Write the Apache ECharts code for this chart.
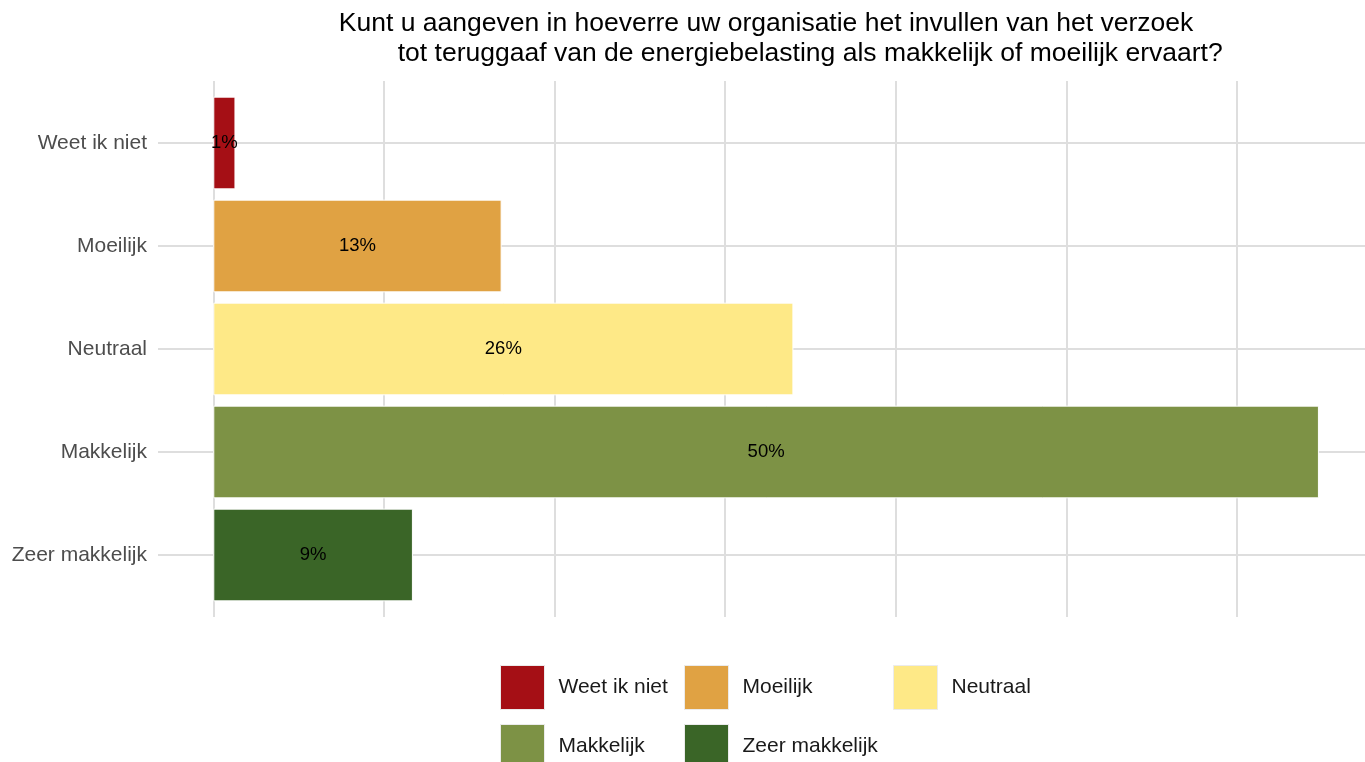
<!DOCTYPE html>
<html>
<head>
<meta charset="utf-8">
<script src="https://cdn.jsdelivr.net/npm/echarts@6/dist/echarts.min.js"></script>
<style>
  html, body { margin: 0; padding: 0; background: #fff; }
  #main { width: 1365px; height: 762px; }
</style>
</head>
<body>
<div id="main"></div>
<script>
// antwoordcategorieen (van boven naar beneden)
const categories = ['Weet ik niet', 'Moeilijk', 'Neutraal', 'Makkelijk', 'Zeer makkelijk'];
const counts = [1.3, 16.9, 34.0, 64.8, 11.7];
// labels in de balken
const percentLabels = ['1%', '13%', '26%', '50%', '9%'];
const colors = ['#A50F15', '#E0A243', '#FEE987', '#7D9245', '#3A6527'];

const titleText = 'Kunt u aangeven in hoeverre uw organisatie het invullen van het verzoek\n' +
  '            tot teruggaaf van de energiebelasting als makkelijk of moeilijk ervaart?';

let myChart = echarts.init(document.getElementById('main'));

const font = 'Liberation Sans, Arial, sans-serif';
const gridLine = { show: true, showMinLine: false, showMaxLine: false, lineStyle: { color: '#dedede', width: 2 } };

// een serie per categorie, zodat de legenda elke categorie toont
let series = categories.map(function (name, i) {
  return {
    name: name,
    type: 'bar',
    xAxisIndex: 1,
    yAxisIndex: 1,
    stack: 'totaal',
    barWidth: '90%',
    data: counts.map(function (v, j) { return j === i ? v : null; }),
    itemStyle: { color: colors[i], borderColor: '#ffffff', borderWidth: 1 },
    label: {
      show: true,
      position: 'inside',
      color: '#000',
      fontSize: 18.5,
      fontFamily: font,
      formatter: function (p) { return percentLabels[p.dataIndex]; }
    }
  };
});

// legenda: 3 kolommen, 2 rijen
let legendItem = function (name, left, top) {
  return {
    left: left,
    top: top,
    padding: 0,
    itemWidth: 44,
    itemHeight: 44,
    icon: 'rect',
    data: [name],
    itemStyle: { borderColor: '#ebebeb', borderWidth: 1 },
    textStyle: { fontSize: 21, color: '#1a1a1a', fontFamily: font, padding: [0, 0, 0, 9] }
  };
};

let option = {
  animation: false,
  backgroundColor: '#ffffff',
  graphic: [{
    type: 'text',
    x: 766,
    y: 9,
    style: {
      text: titleText,
      textAlign: 'center',
      fill: '#000',
      fontSize: 26.5,
      fontFamily: font,
      lineHeight: 30
    }
  }],
  legend: [
    legendItem('Weet ik niet', 500, 665),
    legendItem('Moeilijk', 684, 665),
    legendItem('Neutraal', 893, 665),
    legendItem('Makkelijk', 500, 724),
    legendItem('Zeer makkelijk', 684, 724)
  ],
  grid: [
    // raster
    { left: 158, right: 0, top: 81, bottom: 145 },
    // balken
    { left: 158, right: 0, top: 91.5, bottom: 155.5 }
  ],
  xAxis: [
    {
      gridIndex: 0, type: 'value', min: -3.24, max: 67.5, splitNumber: 7,
      axisLine: { show: false }, axisTick: { show: false }, axisLabel: { show: false },
      splitLine: gridLine
    },
    {
      gridIndex: 1, type: 'value', min: -3.24, max: 67.5,
      axisLine: { show: false }, axisTick: { show: false }, axisLabel: { show: false },
      splitLine: { show: false }
    }
  ],
  yAxis: [
    {
      gridIndex: 0, type: 'value', min: -0.6, max: 4.6, inverse: true, splitNumber: 5,
      axisLine: { show: false }, axisTick: { show: false }, axisLabel: { show: false },
      splitLine: gridLine
    },
    {
      gridIndex: 1, type: 'category', data: categories, inverse: true,
      axisLine: { show: false }, axisTick: { show: false },
      splitLine: { show: false },
      axisLabel: { fontSize: 21, color: '#4d4d4d', fontFamily: font, margin: 11 }
    }
  ],
  series: series
};

myChart.setOption(option);
</script>
</body>
</html>
